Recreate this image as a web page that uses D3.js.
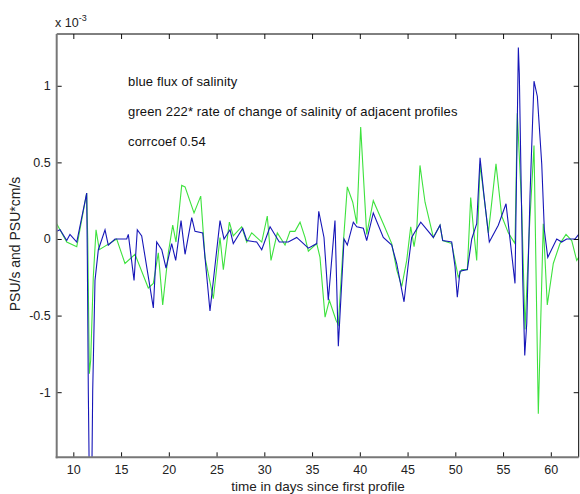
<!DOCTYPE html>
<html>
<head>
<meta charset="utf-8">
<script src="https://cdn.jsdelivr.net/npm/d3@7"></script>
<style>
  html, body { margin: 0; padding: 0; background: #fff; }
  svg { display: block; }
  text { font-family: "Liberation Sans", Arial, sans-serif; }
</style>
</head>
<body>
<svg id="chart" width="580" height="494"></svg>
<script>
// Values in units of 1e-3 (axis multiplier "x 10^-3")
const blueDays = [8.26,8.61,9.31,9.65,10.36,11.40,11.47,11.57,11.68,11.93,12.03,12.27,12.62,13.32,13.66,14.37,15.59,15.76,16.36,16.70,17.16,18.38,18.73,19.26,19.71,20.30,20.72,21.28,21.70,22.40,22.74,23.55,24.31,25.36,25.78,26.41,26.75,27.74,28.16,29.20,29.73,30.60,31.57,32.51,33.39,34.61,35.49,35.70,36.25,36.70,37.40,37.75,38.35,38.69,39.32,39.68,40.37,40.72,41.41,42.46,43.34,43.86,44.63,45.08,45.43,46.38,47.70,48.40,48.68,49.62,49.97,50.21,50.49,51.26,51.72,52.24,52.59,53.01,53.56,54.50,55.31,56.25,56.60,56.70,57.06,57.27,57.48,57.82,58.24,58.59,59.05,59.32,59.68,60.62,61.14,61.66,62.53,62.92];
const blueFlux = [0.05,0.06,-0.01,0.03,-0.02,0.30,-0.14,-0.99,-1.6,-1.6,-0.99,-0.27,-0.07,0.06,-0.04,0.0,0.0,0.03,-0.27,0.06,0.02,-0.45,-0.02,-0.07,-0.19,-0.03,-0.14,0.12,-0.10,0.14,0.05,0.04,-0.47,0.12,0.0,0.06,-0.03,0.07,-0.01,-0.02,-0.07,0.08,-0.02,-0.02,0.01,-0.06,-0.03,0.18,0.01,-0.40,0.12,-0.70,0.0,-0.04,0.11,0.08,0.07,-0.01,0.17,0.01,-0.04,-0.16,-0.41,-0.16,0.01,0.11,0.01,0.09,-0.01,-0.02,-0.18,-0.38,-0.21,-0.20,0.0,0.10,0.53,0.28,-0.02,0.09,0.23,-0.29,1.25,1.08,-0.26,-0.76,-0.55,0.28,1.03,0.93,0.49,0.06,-0.12,0.0,-0.02,0.0,0.0,0.03];

const greenDays = [8.26,9.31,10.36,11.40,11.51,11.68,11.82,12.09,12.38,12.72,14.54,15.41,16.46,17.85,18.38,18.90,19.36,19.95,20.41,20.75,21.35,21.70,22.64,23.34,23.79,24.66,25.36,25.71,26.34,26.75,27.63,28.16,28.68,29.73,30.31,30.70,31.36,32.17,32.69,33.21,33.74,34.26,34.61,35.49,35.83,36.36,36.81,37.51,37.75,38.27,38.69,39.26,39.68,40.09,40.72,41.41,42.46,43.34,43.86,44.39,44.91,45.33,45.68,45.96,46.30,46.83,47.70,48.40,48.68,49.62,50.31,50.67,51.26,51.61,51.88,52.24,52.59,53.46,54.26,54.86,55.55,56.25,56.49,56.95,57.30,57.75,58.24,58.69,59.21,59.63,60.26,60.96,61.59,62.19,62.71,62.92];
const greenRate = [0.10,-0.02,-0.05,0.30,0.0,-0.88,-0.79,-0.25,0.06,-0.07,0.0,-0.16,-0.10,-0.32,-0.29,-0.09,-0.43,-0.09,0.09,-0.02,0.35,0.34,0.17,0.28,-0.12,-0.39,0.01,-0.20,0.11,0.02,0.08,-0.02,0.04,-0.02,0.15,-0.14,0.04,-0.04,0.05,0.05,0.11,0.01,-0.08,-0.03,-0.12,-0.51,-0.40,-0.53,-0.56,-0.03,0.34,0.24,0.10,0.73,0.03,0.25,0.10,-0.03,-0.20,-0.31,-0.14,0.08,-0.05,0.06,0.48,0.24,0.01,0.09,-0.01,-0.03,-0.25,-0.20,-0.20,0.27,0.08,-0.14,0.49,0.04,0.49,0.15,0.04,-0.03,0.82,0.21,-0.59,0.06,0.61,-1.14,0.10,-0.43,-0.16,-0.03,0.03,-0.01,-0.14,-0.12];

const xTicks = [10,15,20,25,30,35,40,45,50,55,60];
const yTicks = [-1,-0.5,0,0.5,1];
const yTickLabels = ["-1","-0.5","0","0.5","1"];
const xDomain = [8.26, 62.92];
const yDomain = [-1.425, 1.338];

const notes = ["blue flux of salinity",
               "green 222* rate of change of salinity of adjacent profiles",
               "corrcoef 0.54"];

const L = 56.7, R = 578.7, T = 34, B = 457.3;
const svg = d3.select("#chart");
const x = d3.scaleLinear().domain(xDomain).range([L, R]);
const y = d3.scaleLinear().domain(yDomain).range([B, T]);

svg.append("defs").append("clipPath").attr("id","clip")
  .append("rect").attr("x", L).attr("y", T).attr("width", R - L).attr("height", B - T);

const line = d3.line().x(d => x(d[0])).y(d => y(d[1]));

const g = svg.append("g").attr("clip-path", "url(#clip)");
g.append("path").datum(d3.zip(greenDays, greenRate))
  .attr("d", line).attr("fill","none").attr("stroke","#3ee23e").attr("stroke-width",1.1);
g.append("path").datum(d3.zip(blueDays, blueFlux))
  .attr("d", line).attr("fill","none").attr("stroke","#1616b8").attr("stroke-width",1.1);

// Axes (MATLAB style: ticks inward on all sides)
const tickLen = 5;
const axBottom = svg.append("g").attr("transform", `translate(0,${B})`)
  .call(d3.axisBottom(x).tickValues(xTicks).tickSize(-tickLen).tickPadding(8).tickFormat(d3.format("d")));
const axTop = svg.append("g").attr("transform", `translate(0,${T})`)
  .call(d3.axisTop(x).tickValues(xTicks).tickSize(-tickLen).tickFormat(""));
const axLeft = svg.append("g").attr("transform", `translate(${L},0)`)
  .call(d3.axisLeft(y).tickValues(yTicks).tickSize(-tickLen).tickPadding(6).tickFormat((d,i) => yTickLabels[i]));
const axRight = svg.append("g").attr("transform", `translate(${R},0)`)
  .call(d3.axisRight(y).tickValues(yTicks).tickSize(-tickLen).tickFormat(""));

[axBottom, axTop, axLeft, axRight].forEach(a => {
  a.select(".domain").remove();
  a.selectAll(".tick line").attr("stroke","#111").attr("stroke-width",1);
  a.selectAll(".tick text").attr("fill","#222").style("font-size","12.5px").style("font-family",'"Liberation Sans", Arial, sans-serif');
});

// Box
svg.append("line").attr("x1",L).attr("x2",R).attr("y1",T).attr("y2",T).attr("stroke","#000").attr("stroke-width",1);
svg.append("line").attr("x1",R).attr("x2",R).attr("y1",T).attr("y2",B).attr("stroke","#000").attr("stroke-width",1);
svg.append("line").attr("x1",L).attr("x2",L).attr("y1",T).attr("y2",B+1).attr("stroke","#777").attr("stroke-width",2);
svg.append("line").attr("x1",L-1).attr("x2",R).attr("y1",B).attr("y2",B).attr("stroke","#777").attr("stroke-width",2);

// Exponent label
const ex = svg.append("text").attr("x", 55).attr("y", 27).attr("fill","#222").style("font-size","12.5px");
ex.append("tspan").text("x 10");
ex.append("tspan").attr("dy",-6).style("font-size","9px").text("-3");

// Axis labels
svg.append("text").attr("x", 318).attr("y", 491).attr("text-anchor","middle")
  .attr("fill","#222").style("font-size","13.5px").text("time in days since first profile");
svg.append("text").attr("transform", `translate(20,244) rotate(-90)`).attr("text-anchor","middle")
  .attr("fill","#222").style("font-size","14px").text("PSU/s and PSU*cm/s");

// Annotations
const noteY = [86, 116, 146];
notes.forEach((t,i) => {
  svg.append("text").attr("x", 128).attr("y", noteY[i]).attr("fill","#111")
    .style("font-size","13px").style("letter-spacing","0.15px").text(t);
});
</script>
</body>
</html>
